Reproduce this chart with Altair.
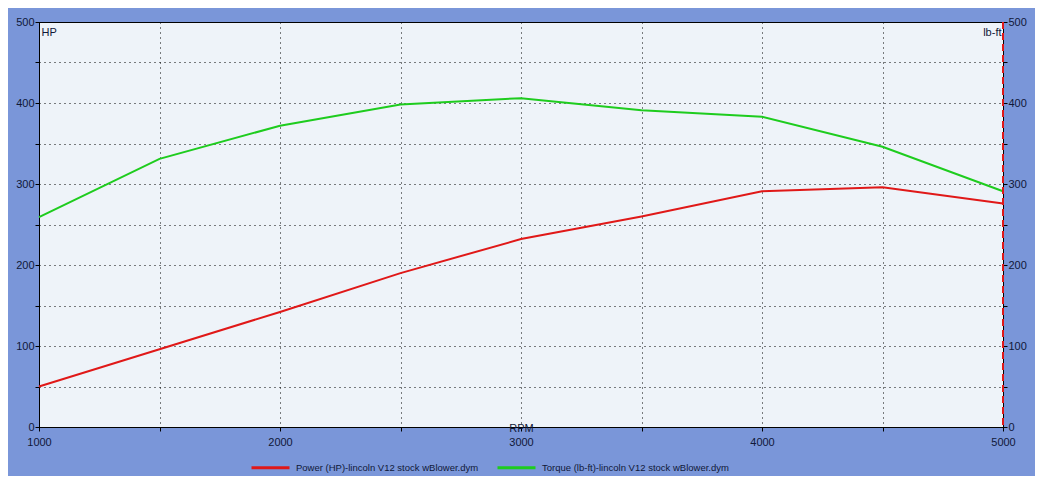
import altair as alt
import pandas as pd

rpm = [1000, 1500, 2000, 2500, 3000, 3500, 4000, 4500, 5000]
power_hp = [50, 96, 142, 190, 232, 260, 291, 296, 276]
torque_lbft = [259, 331, 372, 398, 406, 391, 383, 346, 291]
series_names = [
    "Power (HP)-lincoln V12 stock wBlower.dym",
    "Torque (lb-ft)-lincoln V12 stock wBlower.dym",
]
series_colors = ["#E01818", "#1ECC1E"]
x_ticks = list(range(1000, 5001, 500))
y_ticks = list(range(0, 501, 50))

df = pd.DataFrame({
    "rpm": rpm * 2,
    "value": power_hp + torque_lbft,
    "series": [series_names[0]] * len(rpm) + [series_names[1]] * len(rpm),
})

FONT = "Tahoma, 'Liberation Sans', sans-serif"
TXT = "#101838"

x_enc = alt.X(
    "rpm:Q",
    scale=alt.Scale(domain=[1000, 5000], nice=False, zero=False),
    axis=alt.Axis(
        values=x_ticks,
        format="d",
        labelExpr="datum.value % 1000 == 0 ? datum.label : ''",
        labelFlush=False,
        labelPadding=5,
        title="RPM",
        titleY=1,
        titleBaseline="middle",
        titleFontWeight="normal",
        titleFontSize=11,
        titleColor=TXT,
        titleFont=FONT,
        grid=True,
        gridDash=[1, 4],
        gridColor="#000000",
        gridOpacity=1,
    ),
)

color_enc = alt.Color(
    "series:N",
    scale=alt.Scale(domain=series_names, range=series_colors),
    legend=alt.Legend(
        title=None,
        orient="none",
        legendX=211,
        legendY=425,
        direction="horizontal",
        symbolType="stroke",
        symbolSize=1444,
        symbolStrokeWidth=3,
        labelFontSize=9.5,
        labelFont=FONT,
        labelColor=TXT,
        labelLimit=0,
        labelOffset=5,
        columnPadding=12,
        padding=0,
    ),
)

def y_axis(orient, title, tx, talign, grid):
    return alt.Axis(
        orient=orient,
        values=y_ticks,
        labelExpr="datum.value % 100 == 0 ? datum.label : ''",
        labelFlush=False,
        labelPadding=1,
        title=title,
        titleAngle=0,
        titleX=tx,
        titleY=4,
        titleAlign=talign,
        titleBaseline="top",
        titleFontWeight="normal",
        titleFontSize=11,
        titleColor=TXT,
        titleFont=FONT,
        grid=grid,
        gridDash=[1, 4],
        gridColor="#000000",
        gridOpacity=1,
    )

power = (
    alt.Chart(df)
    .transform_filter(alt.datum.series == series_names[0])
    .mark_line(strokeWidth=2)
    .encode(
        x=x_enc,
        y=alt.Y("value:Q", scale=alt.Scale(domain=[0, 500], nice=False),
                axis=y_axis("left", "HP", 2, "left", True)),
        color=color_enc,
    )
)

torque = (
    alt.Chart(df)
    .transform_filter(alt.datum.series == series_names[1])
    .mark_line(strokeWidth=2)
    .encode(
        x=x_enc,
        y=alt.Y("value:Q", scale=alt.Scale(domain=[0, 500], nice=False),
                axis=y_axis("right", "lb-ft", -2, "right", False)),
        color=color_enc,
    )
)

edge = (
    alt.Chart(pd.DataFrame({"rpm": [rpm[-1]]}))
    .mark_rule(color=series_colors[0], strokeDash=[7, 4], strokeWidth=2)
    .encode(x=alt.X("rpm:Q"))
)

chart = (
    alt.layer(power, torque, edge)
    .resolve_scale(y="independent")
    .properties(
        width=964,
        height=405,
        autosize=alt.AutoSizeParams(type="none"),
        padding={"left": 31, "top": 14, "right": 32, "bottom": 49},
        background="#7A96D9",
    )
    .configure_view(stroke="#000000", strokeWidth=1, fill="#EEF3F9")
    .configure_axis(
        labelFont=FONT,
        labelFontSize=11,
        labelColor=TXT,
        domainColor="#000000",
        tickColor="#000000",
        tickSize=4,
    )
)

chart.save("out.html", embed_options={"renderer": "svg", "actions": False})
